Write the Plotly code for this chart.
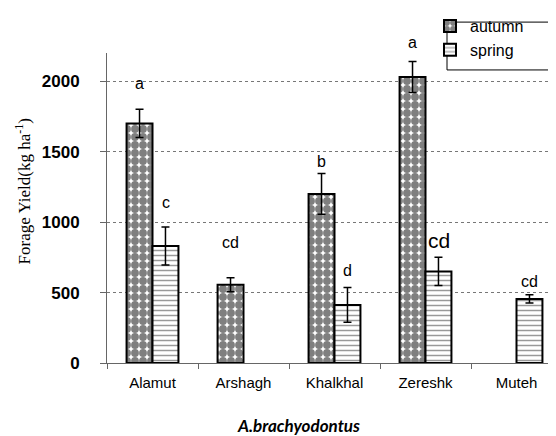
import plotly.graph_objects as go

sites = ["Alamut", "Arshagh", "Khalkhal", "Zereshk", "Muteh"]
autumn = [1700, 555, 1200, 2030, None]
autumn_err = [100, 50, 145, 110, 0]
spring = [830, None, 412, 650, 455]
spring_err = [135, 0, 123, 100, 30]
autumn_letters = ["a", "cd", "b", "a", ""]
spring_letters = ["c", "", "d", "cd", "cd"]

# label offsets above error bar tops (pixels) and font sizes
autumn_shift = [26, 35, 12, 19, 0]
spring_shift = [25, 0, 17, 17, 13]
spring_size = [16, 16, 16, 21, 16]

fig = go.Figure()
fig.add_trace(go.Bar(
    name="autumn", x=sites, y=autumn,
    marker=dict(color="white", line=dict(color="black", width=2),
                pattern=dict(shape=".", fgcolor="black", bgcolor="white", size=8, solidity=0.75)),
    error_y=dict(type="data", array=autumn_err, color="black", thickness=1.5, width=4),
))
fig.add_trace(go.Bar(
    name="spring", x=sites, y=spring,
    marker=dict(color="white", line=dict(color="black", width=2),
                pattern=dict(shape="-", fgcolor="#333", bgcolor="white", size=5, solidity=0.3)),
    error_y=dict(type="data", array=spring_err, color="black", thickness=1.5, width=4),
))

for i, s in enumerate(sites):
    if autumn[i] is not None and autumn_letters[i]:
        fig.add_annotation(x=s, y=autumn[i] + autumn_err[i], xref="x", yref="y",
                           text=autumn_letters[i], showarrow=False, xshift=-13,
                           yshift=autumn_shift[i], yanchor="middle",
                           font=dict(family="Arial", size=16, color="black"))
    if spring[i] is not None and spring_letters[i]:
        fig.add_annotation(x=s, y=spring[i] + spring_err[i], xref="x", yref="y",
                           text=spring_letters[i], showarrow=False, xshift=13,
                           yshift=spring_shift[i], yanchor="middle",
                           font=dict(family="Arial", size=spring_size[i], color="black"))

fig.add_annotation(xref="paper", yref="paper", x=-0.185, y=0.553, xanchor="center", yanchor="middle",
                   text="Forage Yield(kg ha<sup>-1</sup>)", textangle=-90, showarrow=False,
                   font=dict(family="Liberation Serif", size=17, color="black"))
fig.add_annotation(xref="paper", yref="paper", x=0.42, y=-0.203, xanchor="center", yanchor="middle",
                   text="<b><i>A.brachyodontus</i></b>", showarrow=False,
                   font=dict(family="Lato", size=17, color="black"))

# legend frame
fig.add_shape(type="rect", xref="paper", yref="paper",
              x0=(439 - 99) / 455, x1=(560 - 99) / 455,
              y0=(355 - 61) / 311, y1=(355 - 13) / 311,
              line=dict(color="black", width=1), fillcolor="rgba(0,0,0,0)")

fig.update_layout(
    width=556, height=436,
    margin=dict(l=99, r=2, t=44, b=81),
    paper_bgcolor="white", plot_bgcolor="white",
    barmode="group", bargap=0.43, bargroupgap=0,
    showlegend=True,
    legend=dict(x=(422 - 99) / 455, y=(355 - 1) / 311, xanchor="left", yanchor="top",
                borderwidth=0, bgcolor="rgba(0,0,0,0)",
                font=dict(family="Arial", size=16, color="black"),
                tracegroupgap=0),
    xaxis=dict(showline=True, linecolor="#666", linewidth=1,
               ticks="outside", ticklen=5, tickcolor="#666", tickson="boundaries",
               tickfont=dict(family="Arial", size=15, color="black"),
               ticklabelstandoff=6,
               showgrid=False, range=[-0.5, 4.5]),
    yaxis=dict(range=[0, 2200], tickvals=[0, 500, 1000, 1500, 2000],
               showline=True, linecolor="#666", linewidth=1,
               ticks="outside", ticklen=6, tickcolor="#666",
               tickfont=dict(family="Arial", size=17, color="black", weight="bold"),
               ticklabelstandoff=17,
               showgrid=True, gridcolor="#777", griddash="dot", gridwidth=1,
               zeroline=False),
)

fig.write_html("out.html")
